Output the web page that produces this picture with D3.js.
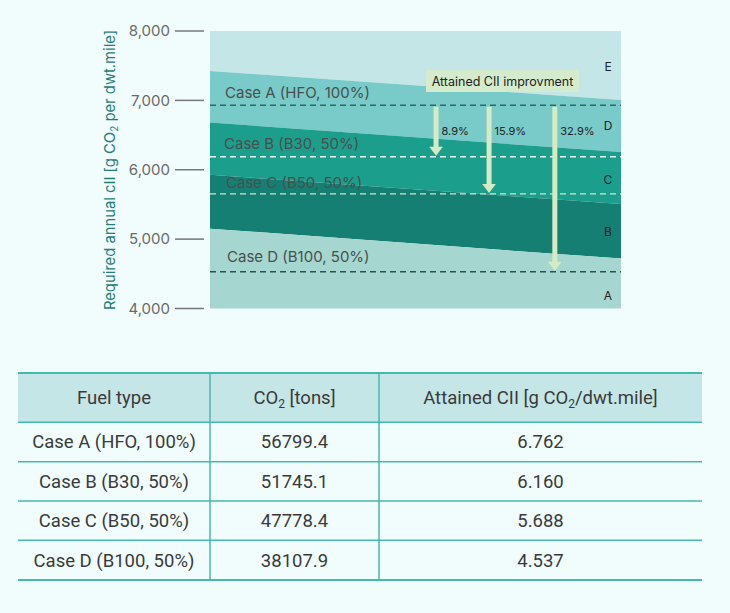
<!DOCTYPE html>
<html><head><meta charset="utf-8">
<script src="https://cdn.jsdelivr.net/npm/d3@7"></script>
<style>body{margin:0;background:#f0fdfc;}svg{display:block;}</style>
</head><body><div id="chart"></div>
<script>
// ---- data ----
const yTicks = [4000, 5000, 6000, 7000, 8000];
const ratingNames = ["E", "D", "C", "B", "A"];
// boundaries (upper edge of D, C, B, A) at start and end of the period
const boundaryStart = [7424, 6681, 5928, 5151];
const boundaryEnd = [7007, 6255, 5506, 4719];
const ratingLabelValues = [7490, 6640, 5860, 5110, 4190];
const bandColors = ["#c4e6e6", "#78cbc8", "#1c9e8c", "#167f74", "#a5d6cf"];
const caseNames = ["Case A (HFO, 100%)", "Case B (B30, 50%)", "Case C (B50, 50%)", "Case D (B100, 50%)"];
const caseLineValues = [6930, 6187, 5652, 4530];
const caseLineColors = ["#2f6863", "#e6f4f0", "#d3e8c2", "#2d514d"];
const improvements = ["8.9%", "15.9%", "32.9%"];
const improvementPos = [0.55, 0.679, 0.839];
const co2Tons = ["56799.4", "51745.1", "47778.4", "38107.9"];
const attainedCII = ["6.762", "6.160", "5.688", "4.537"];

const W = 730, H = 613;
const svg = d3.select("#chart").append("svg").attr("width", W).attr("height", H);
svg.append("rect").attr("width", W).attr("height", H).attr("fill", "#f0fdfc");

const x = d3.scaleLinear().domain([0, 1]).range([210, 621]);
const y = d3.scaleLinear().domain([4000, 8000]).range([308.5, 31]);

// bands
const uppers = [[8000, 8000], ...boundaryStart.map((s, i) => [s, boundaryEnd[i]])];
const lowers = [...boundaryStart.map((s, i) => [s, boundaryEnd[i]]), [4000, 4000]];
const area = d3.area().x(d => x(d.t)).y0(d => y(d.lo)).y1(d => y(d.hi));
ratingNames.forEach((r, i) => {
  const pts = [0, 1].map(t => ({t, hi: uppers[i][t], lo: lowers[i][t]}));
  svg.append("path").attr("d", area(pts)).attr("fill", bandColors[i]);
});

// case dashed lines
caseLineValues.forEach((v, i) => {
  svg.append("line").attr("x1", x(0)).attr("x2", x(1)).attr("y1", y(v)).attr("y2", y(v))
    .attr("stroke", caseLineColors[i]).attr("stroke-width", 1.4).attr("stroke-dasharray", "6,4");
});

// case labels
const labelOffsets = [[15, -7], [14, -8], [16, -6], [17, -9.5]];
caseNames.forEach((n, i) => {
  svg.append("text").attr("x", x(0) + labelOffsets[i][0]).attr("y", y(caseLineValues[i]) + labelOffsets[i][1])
    .attr("font-family", "Inter, sans-serif").attr("font-size", 15).attr("fill", "#4a4f4e").text(n);
});

// rating letters
ratingNames.forEach((r, i) => {
  svg.append("text").attr("x", 608).attr("y", y(ratingLabelValues[i])).attr("dy", "0.35em")
    .attr("text-anchor", "middle").attr("font-family", "Inter, sans-serif").attr("font-size", 12)
    .attr("fill", "#222").text(r);
});

// arrows
const arrowColor = "#d6ebc4";
improvements.forEach((lab, i) => {
  const ax = x(improvementPos[i]);
  const y0 = y(caseLineValues[0]) + 1.5;
  const y1 = y(caseLineValues[i + 1]) - 1;
  svg.append("rect").attr("x", ax - 2.5).attr("y", y0).attr("width", 5).attr("height", y1 - y0 - 8).attr("fill", arrowColor);
  svg.append("path").attr("d", `M${ax - 6.8},${y1 - 9}L${ax + 6.8},${y1 - 9}L${ax},${y1}Z`).attr("fill", arrowColor);
  svg.append("text").attr("x", ax + 5.5).attr("y", 135).attr("font-family", "Inter, sans-serif")
    .attr("font-size", 11).attr("fill", "#222").text(lab);
});

// annotation box
svg.append("rect").attr("x", 426).attr("y", 70).attr("width", 153).attr("height", 22).attr("fill", "#d4ebcd");
svg.append("text").attr("x", 502.5).attr("y", 85.5).attr("text-anchor", "middle")
  .attr("font-family", "Inter, sans-serif").attr("font-size", 12.5).attr("fill", "#222").text("Attained CII improvment");

// y axis ticks
yTicks.forEach(t => {
  svg.append("line").attr("x1", 175).attr("x2", 204).attr("y1", y(t)).attr("y2", y(t))
    .attr("stroke", "#777").attr("stroke-width", 1.5);
  svg.append("text").attr("x", 170).attr("y", y(t)).attr("dy", "0.35em").attr("text-anchor", "end")
    .attr("font-family", "Inter, sans-serif").attr("font-size", 15).attr("fill", "#6a6a6a").text(d3.format(",")(t));
});

// y axis title
const yt = svg.append("text").attr("transform", "translate(115,170) rotate(-90)").attr("text-anchor", "middle")
  .attr("font-family", "Inter, sans-serif").attr("font-size", 14.8).attr("fill", "#1f8076");
yt.append("tspan").text("Required annual cII [g CO");
yt.append("tspan").attr("font-size", 10).attr("dy", 3).text("2");
yt.append("tspan").attr("dy", -3).text(" per dwt.mile]");

// ---- table ----
const colX = [18, 210, 379, 702];
const rowY = [373, 422.3, 461.7, 501, 540.3, 580];
const lineColor = "#44b9af";
svg.append("rect").attr("x", colX[0]).attr("y", rowY[0]).attr("width", colX[3] - colX[0]).attr("height", rowY[1] - rowY[0]).attr("fill", "#c5e6e6");
rowY.forEach((ry, i) => {
  svg.append("line").attr("x1", colX[0]).attr("x2", colX[3]).attr("y1", ry).attr("y2", ry)
    .attr("stroke", lineColor).attr("stroke-width", (i === 0 || i === rowY.length - 1) ? 2 : 1.5);
});
[1, 2].forEach(c => {
  svg.append("line").attr("x1", colX[c]).attr("x2", colX[c]).attr("y1", rowY[0]).attr("y2", rowY[rowY.length - 1])
    .attr("stroke", lineColor).attr("stroke-width", 1.5);
});
const cellText = (cx, cy) => svg.append("text").attr("x", cx).attr("y", cy).attr("dy", "0.35em").attr("text-anchor", "middle")
  .attr("font-family", "Roboto, sans-serif").attr("font-size", 18.5).attr("fill", "#3a3a3a");
const colC = [0, 1, 2].map(c => (colX[c] + colX[c + 1]) / 2);
const hy = (rowY[0] + rowY[1]) / 2;
cellText(colC[0], hy).text("Fuel type");
const h2 = cellText(colC[1], hy);
h2.append("tspan").text("CO");
h2.append("tspan").attr("font-size", 12).attr("dy", 4).text("2");
h2.append("tspan").attr("dy", -4).text(" [tons]");
const h3 = cellText(colC[2], hy);
h3.append("tspan").text("Attained CII [g CO");
h3.append("tspan").attr("font-size", 12).attr("dy", 4).text("2");
h3.append("tspan").attr("dy", -4).text("/dwt.mile]");
caseNames.forEach((n, i) => {
  const cy = (rowY[i + 1] + rowY[i + 2]) / 2;
  cellText(colC[0], cy).text(n);
  cellText(colC[1], cy).text(co2Tons[i]);
  cellText(colC[2], cy).text(attainedCII[i]);
});
</script></body></html>
